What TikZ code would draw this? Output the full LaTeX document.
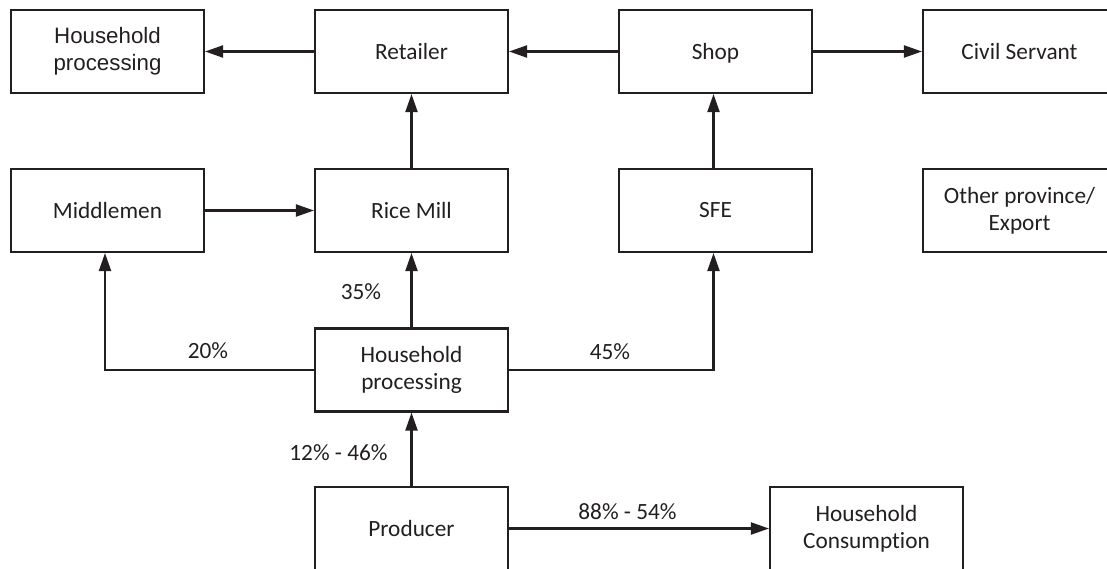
\documentclass[tikz,border=0pt]{standalone}
\usepackage{fontspec}
\setmainfont{Carlito}[Ligatures={NoCommon}]
\newfontfamily\arialfont{Liberation Sans}
\usetikzlibrary{arrows.meta}
\definecolor{ink}{HTML}{231F20}
\begin{document}
\begin{tikzpicture}[x=1pt,y=-1pt,
  box/.style={draw=ink, line width=2.1pt, minimum width=193pt, minimum height=83pt,
    inner sep=0pt, align=center, text=ink, font=\fontsize{23.3}{27}\selectfont},
  lbl/.style={inner sep=0pt, text=ink, font=\fontsize{23.3}{27}\selectfont},
  arr/.style={draw=ink, line width=2.1pt, -{Triangle[length=18pt,width=12pt]}}]
\useasboundingbox (0,0) rectangle (1107,568);
\clip (0,0) rectangle (1107,568);

% top row
\node[box, font=\arialfont\fontsize{22.3}{27}\selectfont] (hp1) at (107.5,51.5) {Household\\processing};
\node[box] (ret) at (411.5,51.5) {Retailer};
\node[box, text depth=0pt] (shop) at (715.5,51.5) {Shop};
\node[box] (civ) at (1019.5,51.5) {Civil Servant};

% second row
\node[box] (mid) at (107.5,210.5) {Middlemen};
\node[box] (mill) at (411.5,210.5) {Rice Mill};
\node[box] (sfe) at (715.5,210.5) {SFE};
\node[box] (oth) at (1019.5,210.5) {Other province/\\Export};

% lower rows
\node[box] (hp2) at (411.5,370) {Household\\processing};
\node[box] (prod) at (411.5,528.5) {Producer};
\node[box] (cons) at (866.5,528.5) {Household\\Consumption};

% connectors
\draw[arr] (ret) -- (hp1);
\draw[arr] (shop) -- (ret);
\draw[arr] (shop) -- (civ);
\draw[arr] (mill) -- (ret);
\draw[arr] (mid) -- (mill);
\draw[arr] ([xshift=-2pt]sfe.north) -- ([xshift=-2pt]shop.south);
\draw[arr] (hp2) -- (mill);
\draw[arr] (hp2.west) -| ([xshift=-2.5pt]mid.south);
\draw[arr] (hp2.east) -| ([xshift=-2pt]sfe.south);
\draw[arr] (prod) -- (hp2);
\draw[arr] (prod) -- (cons);

% shares
\node[lbl] (l20) at (208,351) {20\%};
\node[lbl] (l35) at (361,292) {35\%};
\node[lbl] (l45) at (610,352) {45\%};
\node[lbl] (l12) at (338.5,453) {12\% - 46\%};
\node[lbl] (l88) at (627.5,512) {88\% - 54\%};
\end{tikzpicture}
\end{document}
